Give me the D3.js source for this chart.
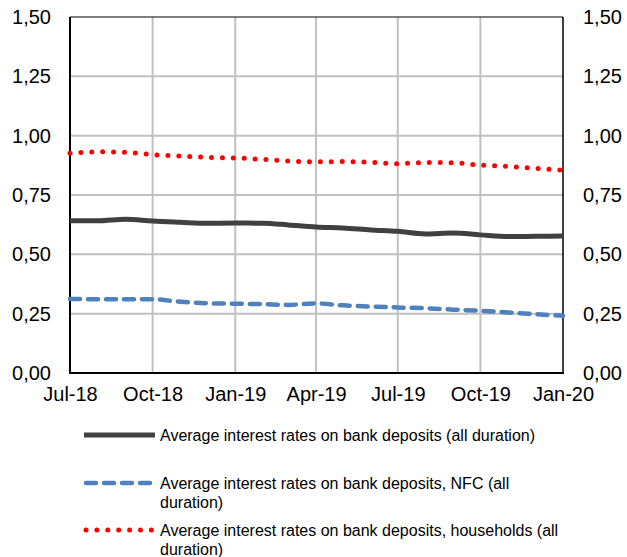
<!DOCTYPE html>
<html><head><meta charset="utf-8">
<script src="https://cdn.jsdelivr.net/npm/d3@7"></script>
<style>body{margin:0;background:#fff;} svg{display:block;font-family:"Liberation Sans",Arial,sans-serif;}</style>
</head><body>
<svg id="c" width="627" height="557"></svg>
<script>
const months = ["2018-07","2018-08","2018-09","2018-10","2018-11","2018-12","2019-01","2019-02","2019-03","2019-04","2019-05","2019-06","2019-07","2019-08","2019-09","2019-10","2019-11","2019-12","2020-01"];
const allDeposits = [0.642,0.641,0.648,0.640,0.635,0.631,0.632,0.631,0.624,0.615,0.611,0.603,0.597,0.586,0.590,0.582,0.575,0.576,0.577];
const nfcDeposits = [0.312,0.311,0.311,0.311,0.300,0.294,0.292,0.290,0.287,0.293,0.285,0.280,0.276,0.273,0.267,0.262,0.255,0.248,0.241];
const hhDeposits = [0.926,0.932,0.930,0.920,0.914,0.909,0.906,0.900,0.893,0.890,0.891,0.888,0.882,0.887,0.886,0.876,0.870,0.862,0.855];
const yTicks = [0,0.25,0.5,0.75,1,1.25,1.5];
const xTickLabels = ["Jul-18","Oct-18","Jan-19","Apr-19","Jul-19","Oct-19","Jan-20"];
const seriesNames = [
  ["Average interest rates on bank deposits (all duration)"],
  ["Average interest rates on bank deposits, NFC (all","duration)"],
  ["Average interest rates on bank deposits, households (all","duration)"]
];

const svg = d3.select("#c");
const L=70, R=563, T=17, B=373;
const parse = d3.timeParse("%Y-%m");
const dates = months.map(parse);
const x = d3.scaleTime().domain([dates[0], dates[dates.length-1]]).range([L,R]);
const y = d3.scaleLinear().domain([0,1.5]).range([B,T]);
const xTickDates = dates.filter((d,i)=>i%3===0);
const fmt = v => d3.format(".2f")(v).replace(".",",");

// gridlines
svg.append("g").selectAll("line").data(yTicks.slice(1,-1)).join("line")
  .attr("x1",L).attr("x2",R).attr("y1",d=>y(d)).attr("y2",d=>y(d))
  .attr("stroke","#c0c0c0").attr("stroke-width",2);
svg.append("g").selectAll("line").data(xTickDates.slice(1,-1)).join("line")
  .attr("x1",d=>x(d)).attr("x2",d=>x(d)).attr("y1",T).attr("y2",B)
  .attr("stroke","#c0c0c0").attr("stroke-width",2);

// axes with D3
const yl = svg.append("g").attr("transform",`translate(${L},0)`)
  .call(d3.axisLeft(y).tickValues(yTicks).tickFormat(fmt).tickSize(0).tickPadding(19));
const yr = svg.append("g").attr("transform",`translate(${R},0)`)
  .call(d3.axisRight(y).tickValues(yTicks).tickFormat(fmt).tickSize(0).tickPadding(20));
const xa = svg.append("g").attr("transform",`translate(0,${B})`)
  .call(d3.axisBottom(x).tickValues(xTickDates).tickFormat((d,i)=>xTickLabels[i]).tickSize(0).tickPadding(14));
[yl,yr,xa].forEach(g=>{
  g.select(".domain").remove();
  g.selectAll("text").attr("font-size",20).attr("fill","#000").attr("font-family","Liberation Sans, Arial, sans-serif");
});

// frame
svg.append("line").attr("x1",L).attr("x2",R).attr("y1",T).attr("y2",T).attr("stroke","#000").attr("stroke-width",1.2);
svg.append("line").attr("x1",L).attr("x2",L).attr("y1",T).attr("y2",B).attr("stroke","#000").attr("stroke-width",2);
svg.append("line").attr("x1",R).attr("x2",R).attr("y1",T).attr("y2",B).attr("stroke","#000").attr("stroke-width",1.5);
svg.append("line").attr("x1",L-1).attr("x2",R+1).attr("y1",B).attr("y2",B).attr("stroke","#000").attr("stroke-width",2);

const styles = [
  {data:allDeposits, color:"#404040", width:5, dash:null, cap:"butt"},
  {data:nfcDeposits, color:"#4f81bd", width:4.5, dash:"10,8", cap:"round"},
  {data:hhDeposits, color:"#ff0000", width:5, dash:"0,10.9", cap:"round"}
];
const line = d3.line().x((d,i)=>x(dates[i])).y(d=>y(d)).curve(d3.curveMonotoneX);
styles.forEach(s=>{
  svg.append("path").attr("d",line(s.data)).attr("fill","none")
    .attr("stroke",s.color).attr("stroke-width",s.width)
    .attr("stroke-dasharray",s.dash).attr("stroke-linecap",s.cap).attr("stroke-linejoin","round");
});

// legend
const legY = [435,483,530];
styles.forEach((s,i)=>{
  const g = svg.append("g");
  g.append("line").attr("x1",s.cap==="round"?86:84).attr("x2",155).attr("y1",legY[i]).attr("y2",legY[i])
    .attr("stroke",s.color).attr("stroke-width",s.width).attr("stroke-dasharray",s.dash).attr("stroke-linecap",s.cap);
  const t = g.append("text").attr("x",160).attr("y",legY[i]).attr("font-size",16).attr("fill","#000").attr("dominant-baseline","central");
  seriesNames[i].forEach((ln,j)=>t.append("tspan").attr("x",160).attr("dy",j?18.5:0).text(ln));
});
</script>
</body></html>
